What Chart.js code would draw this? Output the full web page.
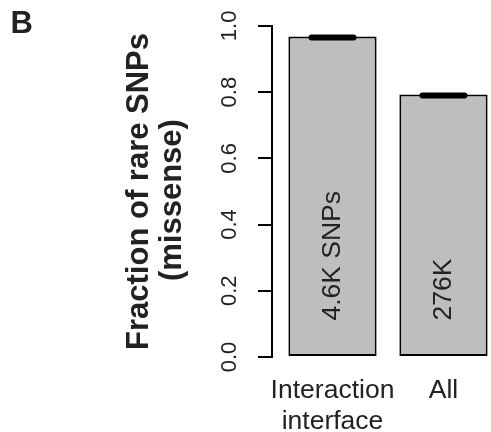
<!DOCTYPE html>
<html>
<head>
<meta charset="utf-8">
<script src="https://cdn.jsdelivr.net/npm/chart.js@4"></script>
<style>
  body { margin: 0; background: #fff; }
  #wrap { width: 491px; height: 432px; }
</style>
</head>
<body>
<div id="wrap"><canvas id="barChart" width="491" height="432"></canvas></div>
<script>
// data
const categories = [["Interaction", "interface"], "All"];
const fractions = [0.968, 0.793];
const barLabels = ["4.6K SNPs", "276K"];
const yTicks = [0, 0.2, 0.4, 0.6, 0.8, 1.0];
const labelAt = 0.11;   // where the in-bar text starts

const FONT = "'Liberation Sans', Arial, Helvetica, sans-serif";
const INK = "#222";

// thick error mark on each bar top, plus the rotated text inside bars
const barExtras = {
    id: "barExtras",
    afterDatasetsDraw(chart) {
        const ctx = chart.ctx;
        const y = chart.scales.y;
        const meta = chart.getDatasetMeta(0);
        ctx.save();
        meta.data.forEach((bar, i) => {
            const py = y.getPixelForValue(fractions[i]) + 1;
            ctx.strokeStyle = "#000";
            ctx.lineWidth = 6;
            ctx.lineCap = "round";
            ctx.beginPath();
            ctx.moveTo(bar.x - 21, py);
            ctx.lineTo(bar.x + 21, py);
            ctx.stroke();

            ctx.save();
            ctx.translate(bar.x, y.getPixelForValue(labelAt));
            ctx.rotate(-Math.PI / 2);
            ctx.fillStyle = INK;
            ctx.font = "26.5px " + FONT;
            ctx.textAlign = "left";
            ctx.textBaseline = "middle";
            ctx.fillText(barLabels[i], 0, 0);
            ctx.restore();
        });
        // panel letter
        ctx.fillStyle = INK;
        ctx.font = "bold 31px " + FONT;
        ctx.textAlign = "left";
        ctx.textBaseline = "alphabetic";
        ctx.fillText("B", 10.4, 33.3);
        ctx.restore();
    }
};

let myChart = document.getElementById("barChart").getContext("2d");

var data = {
    datasets: [{
        data: fractions.map((v, i) => ({x: i + 1, y: v})),
        backgroundColor: "#bebebe",
        borderColor: "#000",
        borderWidth: 2,
        borderSkipped: false,
        barPercentage: 0.795,
        categoryPercentage: 1
    }]
};

var options = {
    responsive: false,
    animation: false,
    layout: {
        padding: {top: 24, left: 122.4, right: 0, bottom: 0}
    },
    plugins: {
        legend: {display: false},
        tooltip: {enabled: false}
    },
    scales: {
        x: {
            type: "linear",
            offset: false,
            min: 0.455,
            max: 2.428,
            afterBuildTicks: s => { s.ticks = categories.map((c, i) => ({value: i + 1})); },
            afterFit: s => { s.height = 75; },
            grid: {display: false, offset: false},
            border: {display: false},
            ticks: {
                autoSkip: false,
                maxRotation: 0,
                padding: 10.5,
                color: INK,
                font: {family: FONT, size: 26.5, lineHeight: 1.17},
                callback: v => categories[Math.round(v) - 1]
            }
        },
        y: {
            min: 0,
            max: 1,
            afterBuildTicks: s => { s.ticks = yTicks.map(v => ({value: v})); },
            afterFit: s => { s.width = 149.6; },
            border: {display: true, color: "#000", width: 2},
            grid: {drawOnChartArea: false, drawTicks: true, tickLength: 14, color: "#000", lineWidth: 2},
            ticks: {
                minRotation: 90,
                maxRotation: 90,
                crossAlign: "center",
                padding: 12.7,
                color: INK,
                font: {family: FONT, size: 22},
                callback: v => v.toFixed(1)
            },
            title: {
                display: true,
                text: ["Fraction of rare SNPs", "(missense)  "],
                color: INK,
                padding: 0,
                font: {family: FONT, size: 31, weight: "bold", lineHeight: 1.07}
            }
        }
    }
};

let chart = new Chart(myChart, {
    type: "bar",
    data: data,
    options: options,
    plugins: [barExtras]
});
</script>
</body>
</html>
